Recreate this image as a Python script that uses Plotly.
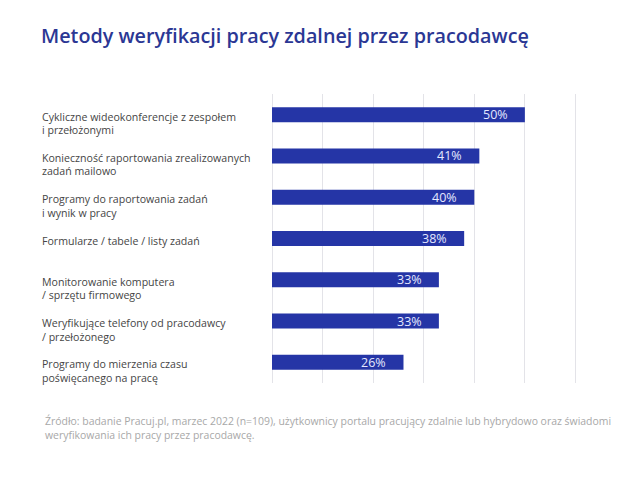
import plotly.graph_objects as go

title = "Metody weryfikacji pracy zdalnej przez pracodawcę"
categories = [
    "Cykliczne wideokonferencje z zespołem<br>i przełożonymi",
    "Konieczność raportowania zrealizowanych<br>zadań mailowo",
    "Programy do raportowania zadań<br>i wynik w pracy",
    "Formularze / tabele / listy zadań",
    "Monitorowanie komputera<br>/ sprzętu firmowego",
    "Weryfikujące telefony od pracodawcy<br>/ przełożonego",
    "Programy do mierzenia czasu<br>poświęcanego na pracę",
]
values = [50, 41, 40, 38, 33, 33, 26]
value_labels = ["50%", "41%", "40%", "38%", "33%", "33%", "26%"]
tick_values = [0, 10, 20, 30, 40, 50, 60, 70]
source = ("Źródło: badanie Pracuj.pl, marzec 2022 (n=109), użytkownicy portalu pracujący zdalnie lub hybrydowo oraz świadomi"
          "<br>weryfikowania ich pracy przez pracodawcę.")

BAR = "#2535a6"
FONT = "Open Sans"

fig = go.Figure()
fig.add_trace(go.Bar(
    y=list(range(len(categories))), x=values, orientation="h",
    marker=dict(color=BAR, line=dict(width=0)),
    hoverinfo="skip",
))

ann = []
for i, (cat, v, lab) in enumerate(zip(categories, values, value_labels)):
    for k, line in enumerate(cat.split("<br>")):
        ann.append(dict(
            xref="paper", yref="y", x=0, y=i, xshift=-232.5, yshift=-(2 + 13.5 * k),
            xanchor="left", yanchor="middle", showarrow=False, text=line,
            font=dict(family=FONT, size=10.6, color="#454545"),
        ))
    ann.append(dict(
        xref="x", yref="y", x=v, y=i, xshift=-15, xanchor="right", yanchor="middle",
        showarrow=False, text=lab, font=dict(family=FONT, size=12.5, color="#e4e8ff"),
    ))

ann.append(dict(
    xref="paper", yref="paper", x=0, y=1, xshift=-233, yshift=94 - 35,
    xanchor="left", yanchor="middle", showarrow=False, text=title,
    font=dict(family=FONT, size=19.75, color="#2b3794", weight=600),
))
ann.append(dict(
    xref="paper", yref="paper", x=0, y=0, xshift=-229, yshift=-(418 - 382.6) + 6.8,
    xanchor="left", yanchor="top", showarrow=False, text=source, align="left",
    font=dict(family=FONT, size=10.45, color="#a8a8a8"),
))

# The page body has an 8px default margin, so the figure is sized and
# positioned to compensate for it inside the 640x486 window.
fig.update_layout(
    width=632, height=478,
    margin=dict(l=264, r=14, t=86, b=103, pad=0),
    paper_bgcolor="white", plot_bgcolor="white",
    showlegend=False, bargap=0.636,
    annotations=ann,
    xaxis=dict(range=[0, 70], tickvals=tick_values, showticklabels=False,
               showgrid=True, gridcolor="#e3e3e8", gridwidth=1,
               zeroline=True, zerolinecolor="#e3e3e8", zerolinewidth=1, fixedrange=True),
    yaxis=dict(range=[6.5, -0.5], showticklabels=False, showgrid=False, zeroline=False,
               fixedrange=True),
)

fig.write_html("out.html")
